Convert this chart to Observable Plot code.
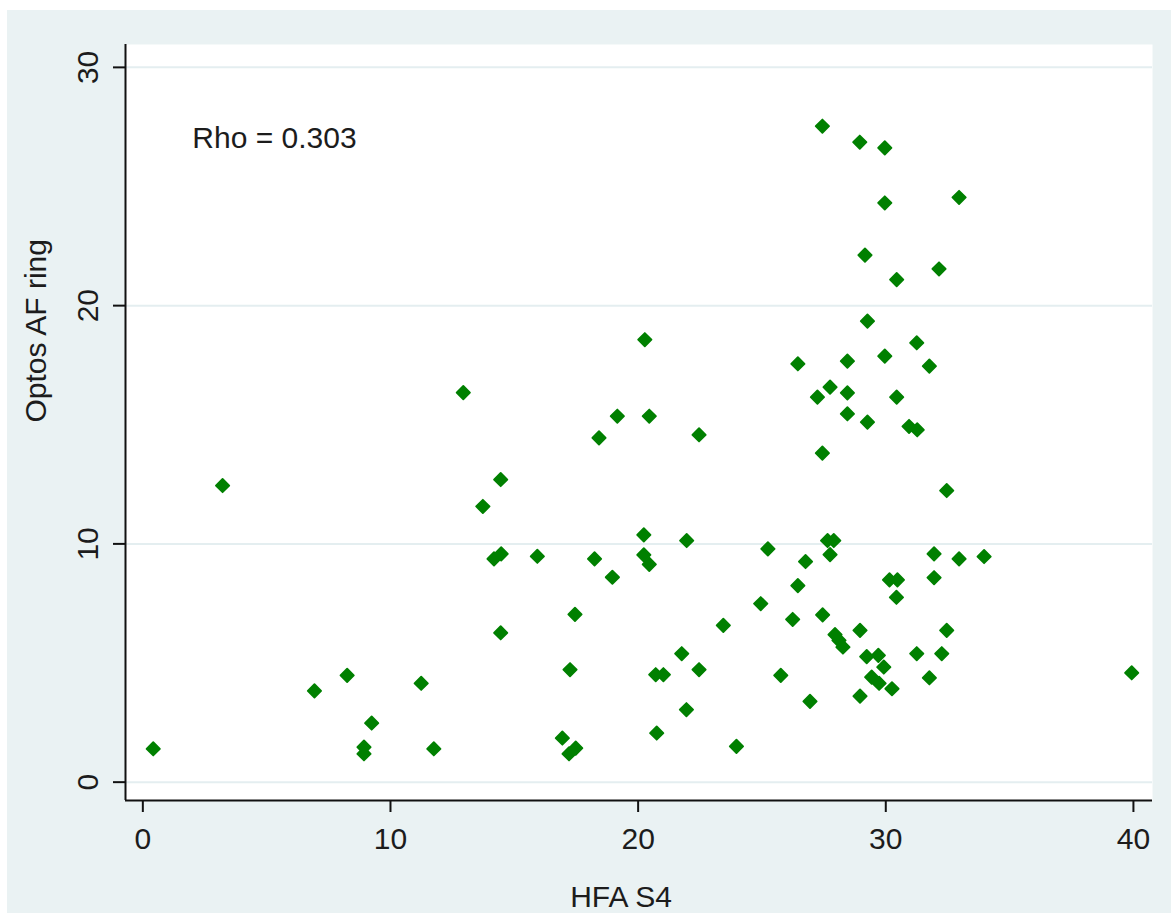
<!DOCTYPE html>
<html><head><meta charset="utf-8">
<script src="https://cdn.jsdelivr.net/npm/d3@7"></script>
<script src="https://cdn.jsdelivr.net/npm/@observablehq/plot@0.6"></script>
<style>
html,body{margin:0;padding:0;background:#fff;}
#wrap{position:absolute;left:7px;top:10px;width:1164px;height:903px;background:#eaf2f3;}
#wrap svg{display:block;}
</style></head><body><div id="wrap"></div>
<script>
// HFA S4 (x) and Optos AF ring (y)
const hfaS4 = [
  0.42, 3.22, 6.93, 8.25, 8.93, 8.93, 9.24, 11.24, 11.75, 12.94,
  13.73, 14.45, 14.18, 14.47, 14.45, 15.93, 16.94, 17.21, 17.48, 17.25,
  17.45, 18.24, 18.96, 18.42, 19.16, 20.27, 20.23, 20.23, 20.45, 20.45,
  20.71, 21.02, 20.75, 21.76, 21.95, 21.96, 22.46, 22.46, 23.44, 23.97,
  24.95, 25.24, 25.76, 26.45, 26.45, 26.24, 26.76, 26.94, 27.24, 27.44,
  27.45, 27.44, 27.75, 27.65, 27.90, 27.75, 27.95, 28.11, 28.27, 28.45,
  28.45, 28.45, 28.95, 29.16, 29.26, 29.26, 28.96, 28.96, 29.23, 29.70,
  29.92, 29.43, 29.73, 30.25, 29.96, 29.96, 29.96, 30.15, 30.47, 30.43,
  30.44, 30.44, 30.94, 31.27, 31.25, 31.25, 31.76, 31.76, 31.95, 31.95,
  32.15, 32.26, 32.46, 32.46, 32.96, 32.96, 33.97, 39.93
];
const optosAF = [
  1.40, 12.45, 3.83, 4.48, 1.47, 1.19, 2.48, 4.15, 1.40, 16.35,
  11.57, 12.70, 9.37, 9.58, 6.27, 9.48, 1.85, 1.19, 1.43, 4.72,
  7.04, 9.37, 8.60, 14.45, 15.36, 18.57, 10.38, 9.54, 9.14, 15.36,
  4.51, 4.51, 2.06, 5.39, 3.04, 10.14, 4.72, 14.58, 6.58, 1.50,
  7.49, 9.79, 4.48, 17.56, 8.25, 6.83, 9.26, 3.39, 16.16, 13.81,
  7.02, 27.53, 16.58, 10.14, 10.14, 9.55, 6.19, 5.95, 5.67, 17.67,
  16.34, 15.46, 26.86, 22.12, 19.35, 15.11, 6.37, 3.61, 5.27, 5.32,
  4.83, 4.41, 4.15, 3.92, 26.62, 24.31, 17.88, 8.49, 8.49, 7.76,
  21.09, 16.16, 14.93, 14.79, 18.44, 5.39, 17.46, 4.38, 9.58, 8.58,
  21.54, 5.39, 12.24, 6.37, 24.54, 9.37, 9.47, 4.59
];
const xTicks = [0, 10, 20, 30, 40];
const yTicks = [0, 10, 20, 30];
const xTitle = "HFA S4";
const yTitle = "Optos AF ring";
const annotation = "Rho = 0.303";
const annotationAt = {x: 2, y: 27};

const data = hfaS4.map((x, i) => ({x, y: optosAF[i]}));
const xDomain = [-0.70, 40.77];
const yDomain = [-0.77, 30.96];
const font = "'Liberation Sans', Arial, Helvetica, sans-serif";
const ink = "#1c1c1c";

const chart = Plot.plot({
  width: 1164, height: 903,
  marginLeft: 118, marginTop: 34, marginRight: 19, marginBottom: 113,
  style: {background: "transparent", fontFamily: font, fontSize: "30px", color: ink},
  x: {domain: xDomain},
  y: {domain: yDomain},
  marks: [
    Plot.frame({fill: "white", stroke: null}),
    Plot.ruleY(yTicks, {stroke: "#e4eef0", strokeWidth: 2}),
    Plot.dot(data, {x: "x", y: "y", symbol: "diamond2", r: 6, fill: "#008000",
      stroke: "#008000", strokeWidth: 1.8, strokeLinejoin: "round"}),
    Plot.ruleX([xDomain[0]], {stroke: "#111", strokeWidth: 2}),
    Plot.ruleY([yDomain[0]], {stroke: "#111", strokeWidth: 2}),
    Plot.axisX({ticks: xTicks, tickSize: 12, tickPadding: 15, fontSize: 30, label: null, stroke: "#111", strokeWidth: 2}),
    Plot.axisY({ticks: yTicks, tickSize: 12, tickFormat: () => "", label: null, stroke: "#111", strokeWidth: 2}),
    Plot.text(yTicks, {x: () => xDomain[0], y: d => d, text: d => String(d), rotate: -90, dx: -37.5,
      fontSize: 30, textAnchor: "middle", lineAnchor: "middle", fill: ink}),
    Plot.text([xTitle], {frameAnchor: "bottom", text: d => d, dy: 97, dx: -18, fontSize: 30, lineAnchor: "middle", fill: ink}),
    Plot.text([yTitle], {frameAnchor: "left", text: d => d, rotate: -90, dx: -89, fontSize: 30, lineAnchor: "middle", fill: ink}),
    Plot.text([annotation], {x: () => annotationAt.x, y: () => annotationAt.y, text: d => d,
      textAnchor: "start", lineAnchor: "middle", fontSize: 30, fill: ink})
  ]
});
document.getElementById("wrap").appendChild(chart);
</script>
</body></html>
